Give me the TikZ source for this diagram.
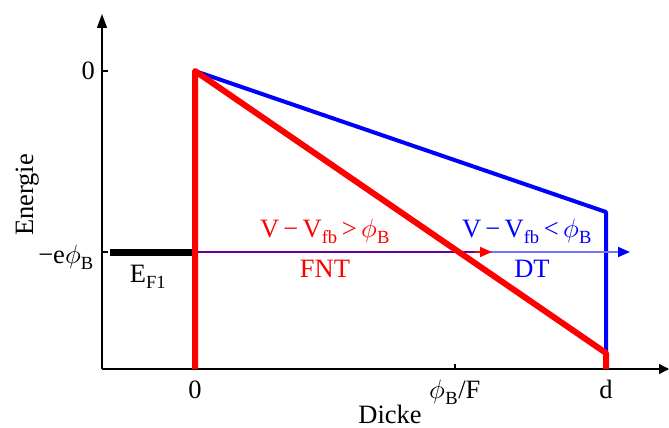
\documentclass[tikz,border=0pt]{standalone}
\usepackage{fontspec}
\setmainfont{Liberation Serif}
\usepackage{unicode-math}
\setmathfont{Latin Modern Math}
\usetikzlibrary{arrows.meta}
\newcommand{\tsp}{\hspace{0.16em}}
\newcommand{\phiB}{$\phi$\textsubscript{B}}
\begin{document}
\begin{tikzpicture}[x=1pt,y=-1pt,
  lbl/.style={font=\fontsize{26.5}{30}\selectfont, inner sep=0pt, anchor=base},
  axis/.style={line width=1.3pt},
  redl/.style={red, line width=6pt},
  bluel/.style={blue, line width=4pt}]
\useasboundingbox (0,0) rectangle (669,428);
% axes
\coordinate (O) at (102,369);
\coordinate (ytop) at (102,14);
\coordinate (xend) at (669,369);
\draw[axis,-{Triangle[length=14pt,width=10pt]}] (O) -- (ytop);
\draw[axis,-{Triangle[length=10pt,width=10pt]}] (O) -- (xend);
% ticks
\draw[axis] (102,71) -- (108,71);
\draw[axis] (102,252) -- (108,252);
\draw[axis] (455,369) -- (455,364);
% tick labels
\node[lbl, anchor=base east] (y0) at (95,80) {0};
\node[lbl, anchor=base east] (yeb) at (94,263) {−e\phiB};
\node[lbl] (x0) at (195,398) {0};
\node[lbl] (xphi) at (455,398) {\phiB/F};
\node[lbl] (xd) at (606,398) {d};
\node[lbl, rotate=90] (ylab) at (33,195) {Energie};
\node[lbl] (xlab) at (390,423) {Dicke};
% points
\coordinate (A) at (195,71);
\coordinate (B) at (606,212);
\coordinate (C) at (606,353);
\coordinate (Cb) at (606,369);
\coordinate (Ab) at (195,369);
% blue
\draw[bluel, line join=round] (A) -- (B) -- (C);
% black fermi level
\draw[line width=7pt] (110,252) -- (195,252);
% arrows
\coordinate (s) at (195,252);
\coordinate (m) at (492,252);
\coordinate (e) at (630,252);
\draw[blue!55, line width=1.8pt, -{Triangle[length=12pt,width=10pt,fill=blue,color=blue]}] (s) -- (e);
\draw[red, line width=1.8pt, -{Triangle[length=12pt,width=10pt]}] (s) -- (m);
\draw[blue!60!red, line width=1.8pt] (s) -- (475,252);
% red
\draw[redl, line join=round] (Ab) -- (A) -- (C) -- (Cb);
% labels
\node[lbl, red] (l1) at (325,237) {V\tsp−\tsp V\textsubscript{fb}\tsp>\tsp\phiB};
\node[lbl, red] (l2) at (325,277) {FNT};
\node[lbl, blue] (l3) at (527,237) {V\tsp−\tsp V\textsubscript{fb}\tsp<\tsp\phiB};
\node[lbl, blue] (l4) at (532,277) {DT};
\node[lbl] (ef) at (148,282) {E\textsubscript{F1}};
\end{tikzpicture}
\end{document}
